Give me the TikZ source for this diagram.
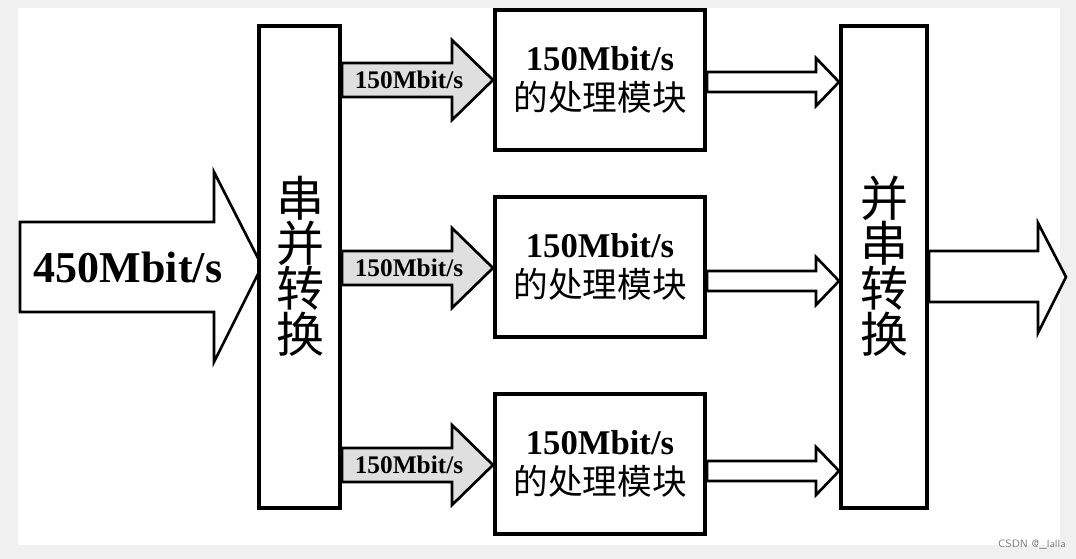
\documentclass[tikz,border=0pt]{standalone}
\usepackage{fontspec}
\setmainfont{Liberation Serif}
\newfontfamily\cjk{Noto Sans CJK SC}
\begin{document}
\begin{tikzpicture}[x=0.75pt,y=-0.75pt,
  blk/.style={draw=black,line width=3pt,fill=white},
  arr/.style={draw=black,line width=2pt,line join=miter,fill=white},
  garr/.style={draw=black,line width=2pt,line join=miter,fill=gray!25},
  boxtxt/.style={font=\fontsize{26}{30}\selectfont\bfseries,align=center},
  vtxt/.style={font=\cjk\fontsize{36}{40}\selectfont,align=center}]
\useasboundingbox (0,0) rectangle (1076,559);
\fill[gray!12] (0,0) rectangle (1076,559);
\fill[white] (18,8) rectangle (1060,545);
% input arrow
\draw[arr] (20,222) -- (214,222) -- (214,172) -- (262,266) -- (214,362) -- (214,312) -- (20,312) -- cycle;
\node[font=\fontsize{33}{38}\selectfont\bfseries] (in) at (128,267) {450Mbit/s};
% boxes
\draw[blk] (259,26) rectangle (340,508);
\node[vtxt] (spt) at (300,266) {串\\[-6pt]并\\[-6pt]转\\[-6pt]换};
\draw[blk] (841,26) rectangle (927,508);
\node[vtxt] (pst) at (884,266) {并\\[-6pt]串\\[-6pt]转\\[-6pt]换};
\foreach \n/\y/\t in {a/80/10, b/268/197, c/465/394}{
  \draw[blk] (495,\t) rectangle (705,\t+140);
  \node[boxtxt] (p\n) at (600,\t+70) {150Mbit/s\\{\cjk\mdseries 的处理模块}};
  \draw[garr] (342,\y-17) -- (452,\y-17) -- (452,\y-40) -- (493,\y) -- (452,\y+40) -- (452,\y+17) -- (342,\y+17) -- cycle;
  \node[font=\fontsize{19}{22}\selectfont\bfseries] (l\n) at (409,\y) {150Mbit/s};
}
\foreach \y in {82,281,471}{
  \draw[arr] (707,\y-10) -- (816,\y-10) -- (816,\y-24) -- (839,\y) -- (816,\y+24) -- (816,\y+10) -- (707,\y+10) -- cycle;
}
\draw[arr] (929,251) -- (1038,251) -- (1038,223) -- (1066,277) -- (1038,333) -- (1038,302) -- (929,302) -- cycle;
\node[font=\sffamily\fontsize{8}{9}\selectfont,text=gray] (wm) at (1032,545) {CSDN @\_lalla};
\end{tikzpicture}
\end{document}
